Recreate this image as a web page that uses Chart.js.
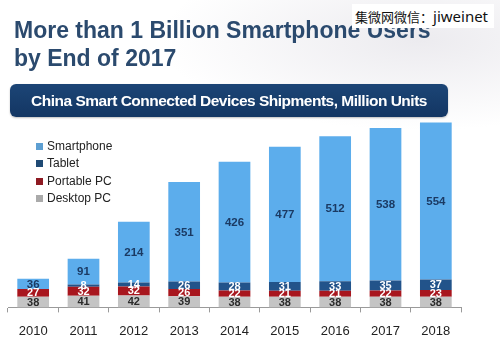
<!DOCTYPE html>
<html>
<head>
<meta charset="utf-8">
<script src="https://cdn.jsdelivr.net/npm/chart.js@4/dist/chart.umd.min.js"></script>
<style>
  html, body { margin: 0; padding: 0; background: #fff; }
  #wrap {
    position: relative; width: 500px; height: 339px; overflow: hidden;
    background: radial-gradient(ellipse 260px 90px at 420px 40px, #ecebef 0%, #ffffff 100%);
    font-family: "Liberation Sans", Arial, sans-serif;
  }
  #chart { position: absolute; left: 0; top: 0; }
  .title {
    position: absolute; left: 14px; top: 16px;
    font-size: 23px; line-height: 28px; font-weight: bold; color: #2b4a6e;
  }
  .band {
    position: absolute; left: 10px; top: 84px; width: 438px; height: 33px;
    border-radius: 6px; background: linear-gradient(#1c4576, #133663);
    color: #fff; font-size: 15.5px; font-weight: bold; letter-spacing: -0.5px;
    text-align: center; line-height: 33px; box-shadow: 0 1px 2px rgba(0,0,0,0.25);
  }
  .mark {
    position: absolute; left: 352px; top: 4px; width: 142px; height: 24px;
    background: #fff; color: #111; line-height: 24px; white-space: nowrap;
  }
  .mark .cjk { font-family: "Noto Sans CJK SC"; font-size: 13px; padding-left: 3px; }
  .mark .lat { font-family: "Noto Sans", sans-serif; font-size: 15px; }
  #legend { position: absolute; left: 36px; top: 138px; font-size: 12px; color: #222; }
  #legend div { height: 17.3px; line-height: 17.3px; white-space: nowrap; }
  #legend span.box { display: inline-block; width: 7px; height: 7px; margin-right: 4px; vertical-align: 0px; }
</style>
</head>
<body>
<div id="wrap">
  <canvas id="chart" width="500" height="350"></canvas>
  <div class="title">More than 1 Billion Smartphone Users<br>by End of 2017</div>
  <div class="band">China Smart Connected Devices Shipments, Million Units</div>
  <div class="mark"><span class="cjk">集微网微信：</span><span class="lat">jiweinet</span></div>
  <div id="legend"></div>
</div>
<script>
// Million units
const years = ['2010', '2011', '2012', '2013', '2014', '2015', '2016', '2017', '2018'];
const desktopPC = [38, 41, 42, 39, 38, 38, 38, 38, 38];
const portablePC = [27, 32, 32, 26, 22, 21, 21, 22, 23];
const tablet = [0, 8, 14, 26, 28, 31, 33, 35, 37];
const smartphone = [36, 91, 214, 351, 426, 477, 512, 538, 554];

// Vertical gradient for one segment, spanning that bar only
function segmentGradient(top, bottom) {
  return function (context) {
    const chart = context.chart;
    const el = context.element;
    if (!chart.chartArea || !el || el.y === undefined || isNaN(el.y)) return top;
    const g = chart.ctx.createLinearGradient(0, el.y, 0, el.base);
    g.addColorStop(0, top);
    g.addColorStop(1, bottom);
    return g;
  };
}

const series = [
  { label: 'Desktop PC', data: desktopPC, top: '#c4c4c4', bottom: '#9c9c9c', text: '#2b2b2b', legend: '#aaaaaa' },
  { label: 'Portable PC', data: portablePC, top: '#a8161e', bottom: '#8c0f16', text: '#ffffff', legend: '#8e1a22' },
  { label: 'Tablet', data: tablet, top: '#22538a', bottom: '#173f6f', text: '#ffffff', legend: '#1f4a74' },
  { label: 'Smartphone', data: smartphone, top: '#5cadec', bottom: '#3f82c2', text: '#1b3a63', legend: '#5d9fd2' },
];

// Value labels centred in each segment
const segmentLabels = {
  id: 'segmentLabels',
  afterDatasetsDraw(chart) {
    const ctx = chart.ctx;
    ctx.save();
    ctx.textAlign = 'center';
    ctx.textBaseline = 'middle';
    chart.data.datasets.forEach((ds, i) => {
      const meta = chart.getDatasetMeta(i);
      const big = ds.label === 'Smartphone';
      ctx.font = 'bold ' + (big ? 11.5 : 11) + 'px "Liberation Sans", Arial, sans-serif';
      ctx.fillStyle = series[i].text;
      meta.data.forEach((bar, j) => {
        const v = ds.data[j];
        if (!v) return;
        ctx.fillText(String(v), bar.x, (bar.y + bar.base) / 2 + 0.5);
      });
    });
    ctx.restore();
  },
};

new Chart(document.getElementById('chart'), {
  type: 'bar',
  data: {
    labels: years,
    datasets: series.map((s) => ({
      label: s.label,
      data: s.data,
      backgroundColor: segmentGradient(s.top, s.bottom),
      borderWidth: 0,
      barPercentage: 0.7,
      categoryPercentage: 0.9,
    })),
  },
  options: {
    responsive: false,
    animation: false,
    events: [],
    layout: { padding: { left: 8, right: 39, top: 109, bottom: 0 } },
    scales: {
      x: {
        stacked: true,
        border: { color: '#9a9a9a', width: 1 },
        grid: { offset: true, drawOnChartArea: false, drawTicks: true, tickLength: 5, color: '#9a9a9a' },
        ticks: { padding: 11, color: '#222', font: { size: 13, family: '"Liberation Sans", Arial, sans-serif' } },
      },
      y: { stacked: true, display: false, min: 0, max: 700 },
    },
    plugins: { legend: { display: false }, tooltip: { enabled: false } },
  },
  plugins: [segmentLabels],
});

// Legend, top item = top of the stack
const legendEl = document.getElementById('legend');
series.slice().reverse().forEach((s) => {
  const row = document.createElement('div');
  row.innerHTML = '<span class="box" style="background:' + s.legend + '"></span>' + s.label;
  legendEl.appendChild(row);
});
</script>
</body>
</html>
